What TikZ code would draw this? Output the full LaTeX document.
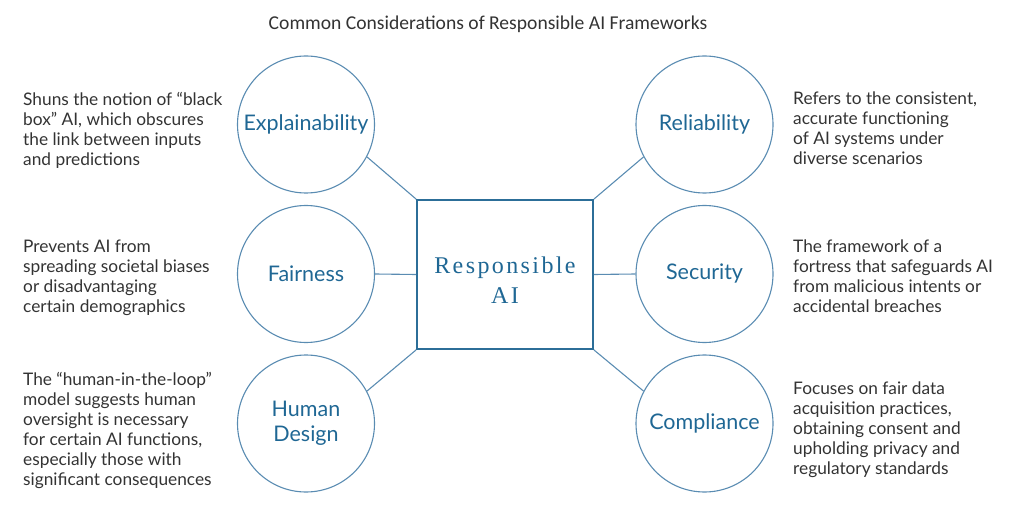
\documentclass[tikz,border=0pt]{standalone}
\usepackage{fontspec}
\setmainfont{Lato}
\newfontfamily\titlefont{Carlito}
\newfontfamily\boxfont[LetterSpace=10]{Liberation Serif}
\definecolor{circline}{HTML}{5A8CB2}
\definecolor{labelblue}{HTML}{1F6794}
\definecolor{boxline}{HTML}{2C6E98}
\definecolor{desctext}{HTML}{333333}
\definecolor{titletext}{HTML}{333333}
\begin{document}
\begin{tikzpicture}[x=1pt,y=-1pt,
  topic/.style={circle,draw=circline,line width=1.1pt,minimum size=137pt,inner sep=0pt,
    text=labelblue,font=\fontsize{21.5}{25}\selectfont,align=center},
  centerbox/.style={draw=boxline,line width=1.8pt,minimum width=176pt,minimum height=149pt,
    inner sep=0pt},
  boxtext/.style={inner sep=0pt,text=labelblue,font=\boxfont\fontsize{24}{30}\selectfont,align=center},
  desc/.style={anchor=north west,inner sep=0pt,align=left,text=desctext,
    font=\fontsize{17.3}{20}\selectfont},
  link/.style={draw=circline,line width=1.1pt}]
\useasboundingbox (0,0) rectangle (1024,510);
\node[text=titletext,font=\titlefont\fontsize{19.6}{22}\selectfont,anchor=base] (title) at (488,30) {Common Considerations of Responsible AI Frameworks};

\node[centerbox] (rai) at (505,274.5) {};
\node[boxtext] (raitext) at (505,280) {Responsible\\AI};

\node[topic] (expl) at (306,124.5) {Explainability};
\node[topic] (fair) at (306,274) {Fairness};
\node[topic] (human) at (306,423.5) {Human\\Design};
\node[topic] (rel) at (704.5,124.5) {Reliability};
\node[topic] (sec) at (704.5,274) {Security};
\node[topic] (comp) at (704.5,423.5) {Compliance};

\draw[link] (expl.-28) -- (rai.north west);
\draw[link] (fair.east) -- (rai.west);
\draw[link] (human.28) -- (rai.south west);
\draw[link] (rel.208) -- (rai.north east);
\draw[link] (sec.west) -- (rai.east);
\draw[link] (comp.152) -- (rai.south east);

\node[desc] (dexpl) at (23,92) {Shuns the notion of “black\\box” AI, which obscures\\the link between inputs\\and predictions};
\node[desc] (dfair) at (23,240) {Prevents AI from\\spreading societal biases\\or disadvantaging\\certain demographics};
\node[desc] (dhuman) at (23,372) {The “human-in-the-loop”\\model suggests human\\oversight is necessary\\for certain AI functions,\\especially those with\\significant consequences};
\node[desc] (drel) at (793,92) {Refers to the consistent,\\accurate functioning\\of AI systems under\\diverse scenarios};
\node[desc] (dsec) at (793,240) {The framework of a\\fortress that safeguards AI\\from malicious intents or\\accidental breaches};
\node[desc] (dcomp) at (793,382) {Focuses on fair data\\acquisition practices,\\obtaining consent and\\upholding privacy and\\regulatory standards};
\end{tikzpicture}
\end{document}
